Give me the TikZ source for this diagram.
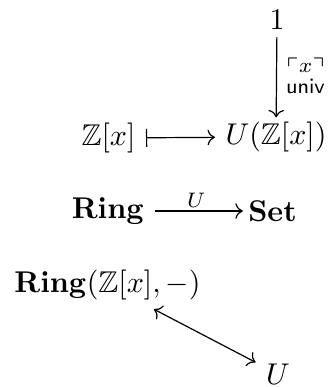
\documentclass[tikz,border=0pt]{standalone}
\usepackage{amssymb}
\usetikzlibrary{arrows.meta}
\begin{document}
\begin{tikzpicture}[x=0.3333pt,y=-0.3333pt,
  obj/.style={inner sep=3.33pt},
  cdarrow/.style={line width=0.4pt,-{Computer Modern Rightarrow}},
  lbl/.style={font=\scriptsize,inner sep=1pt}]
\path[use as bounding box] (0,0) rectangle (327,387);
\node[obj] (one) at (277,20) {$1$};
\node[obj] (uz) at (276,137) {$U(\mathbb{Z}[x])$};
\node[obj] (zx) at (108.5,138) {$\mathbb{Z}[x]$};
\draw[cdarrow,shorten <=-1pt,shorten >=-2pt] (one) -- node[right,lbl,align=center,xshift=2pt] {$\ulcorner x\urcorner$\\[-1pt]$\mathsf{univ}$} (uz);
\draw[line width=0.4pt,{Bar[width=6pt,line width=0.4pt]}-{Computer Modern Rightarrow}] (zx) -- (uz);
\node[obj] (ring) at (108,211) {$\mathbf{Ring}$};
\node[obj] (set) at (272.5,211) {$\mathbf{Set}$};
\draw[cdarrow,shorten >=-1.7pt] (ring) -- node[above,lbl] {$U$} (set);
\node[obj] (hom) at (107.5,285) {$\mathbf{Ring}(\mathbb{Z}[x],-)$};
\node[obj] (uu) at (278,374) {$U$};
\draw[line width=0.4pt,{Computer Modern Rightarrow}-{Computer Modern Rightarrow},shorten <=-1pt] (hom) -- (uu);
\end{tikzpicture}
\end{document}
